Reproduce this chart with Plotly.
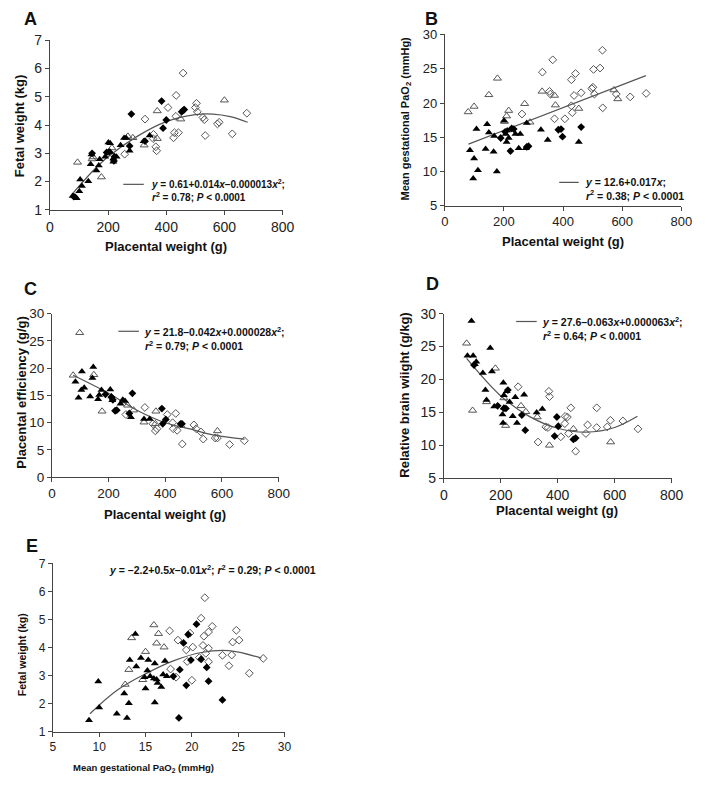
import plotly.graph_objects as go

W, H = 709, 787
FONT = "Liberation Sans, Arial, sans-serif"

# ---- Panel A: fetal weight (kg) vs placental weight (g)
a_ft_x = [78, 88, 92, 101, 110, 104, 132, 140, 143, 160, 168, 171, 190, 201, 207, 207, 218, 229, 218, 243, 255, 262, 274, 322, 343]
a_ft_y = [1.49, 1.45, 1.41, 1.66, 1.84, 2.07, 2.01, 2.61, 2.96, 2.39, 2.57, 2.79, 2.88, 3.38, 3.36, 3.05, 2.82, 2.88, 2.70, 3.29, 3.54, 3.54, 3.09, 3.43, 3.63]
a_fd_x = [82, 145, 195, 204, 220, 222, 274, 280, 327, 384, 389, 400, 453, 459, 462]
a_fd_y = [1.47, 3.00, 3.03, 3.05, 2.73, 2.88, 3.26, 4.39, 3.43, 4.85, 3.89, 4.18, 4.47, 4.53, 4.55]
a_ot_x = [95, 145, 148, 177, 213, 268, 285, 324, 369, 369, 450, 600]
a_ot_y = [2.68, 2.80, 2.87, 2.16, 3.19, 3.60, 3.55, 3.29, 4.50, 3.52, 4.21, 4.88]
a_od_x = [257, 327, 355, 356, 364, 367, 406, 434, 458, 425, 428, 442, 433, 504, 500, 507, 526, 531, 534, 576, 582, 627, 677]
a_od_y = [2.97, 4.21, 3.52, 3.67, 3.23, 3.09, 4.62, 5.05, 5.84, 3.55, 3.73, 3.73, 4.31, 4.77, 4.62, 4.47, 4.27, 4.19, 3.63, 4.04, 4.10, 3.69, 4.42]
a_fit_x = [80, 150, 200, 300, 400, 500, 560, 620, 680]
a_fit_y = [1.60, 2.40, 2.88, 3.60, 4.12, 4.37, 4.39, 4.30, 4.10]

# ---- Panel B: mean gestational PaO2 vs placental weight
b_ft_x = [85, 99, 96, 107, 112, 138, 143, 149, 165, 167, 176, 200, 206, 209, 211, 216, 239, 255, 250, 274, 277, 325, 348, 453]
b_ft_y = [13.1, 11.9, 9.0, 16.2, 10.2, 13.3, 16.9, 15.7, 12.9, 15.2, 10.0, 17.4, 15.5, 14.3, 16.0, 14.9, 15.5, 15.5, 13.4, 13.4, 17.1, 16.1, 14.6, 14.3]
b_fd_x = [189, 204, 222, 226, 233, 277, 283, 384, 393, 398, 461]
b_fd_y = [14.9, 15.8, 13.0, 16.3, 16.2, 13.6, 13.7, 16.1, 16.2, 15.1, 16.5]
b_ot_x = [79, 99, 149, 178, 202, 209, 216, 270, 288, 329, 371, 374, 453, 572, 585]
b_ot_y = [18.7, 19.5, 21.2, 23.6, 17.3, 18.1, 18.9, 19.9, 17.2, 21.7, 21.1, 19.7, 19.2, 21.9, 20.6]
b_od_x = [261, 330, 354, 357, 365, 371, 406, 428, 431, 428, 442, 437, 461, 497, 501, 503, 506, 525, 533, 534, 580, 627, 681]
b_od_y = [18.4, 24.5, 21.7, 21.3, 26.3, 17.7, 17.7, 19.6, 18.6, 23.4, 24.3, 21.1, 21.5, 22.1, 22.3, 24.9, 21.3, 25.1, 27.7, 19.3, 21.3, 20.9, 21.4]
b_fit_x = [80, 680]
b_fit_y = [14.0, 24.0]

# ---- Panel C: placental efficiency (g/g) vs placental weight
c_ft_x = [83, 94, 104, 106, 114, 135, 143, 146, 163, 167, 175, 206, 210, 213, 242, 250, 258, 279, 325, 345]
c_ft_y = [17.5, 14.6, 16.0, 19.4, 16.4, 14.8, 18.2, 20.2, 14.3, 15.1, 16.0, 16.1, 14.8, 14.1, 13.5, 14.2, 14.0, 11.0, 10.7, 10.7]
c_fd_x = [189, 210, 215, 223, 229, 273, 284, 388, 391, 402, 454, 459]
c_fd_y = [15.2, 14.7, 14.2, 12.2, 12.3, 11.7, 15.4, 12.6, 9.8, 10.6, 9.8, 9.8]
c_ot_x = [75, 98, 148, 177, 267, 288, 325, 367, 365, 455, 584]
c_ot_y = [18.7, 26.5, 18.8, 12.1, 13.2, 12.3, 10.1, 12.1, 9.8, 9.5, 8.5]
c_od_x = [261, 328, 356, 365, 371, 407, 426, 428, 437, 442, 460, 501, 509, 526, 534, 576, 584, 627, 679]
c_od_y = [11.5, 12.8, 9.8, 8.5, 8.9, 11.5, 10.0, 8.9, 11.7, 8.6, 6.1, 9.6, 8.9, 8.3, 7.0, 7.2, 7.2, 6.0, 6.7]
c_fit_x = [75, 200, 300, 400, 500, 540, 600, 680]
c_fit_y = [18.7, 15.4, 12.3, 10.0, 8.7, 8.1, 7.5, 7.0]

# ---- Panel D: relative brain weight (g/kg) vs placental weight
d_ft_x = [83, 97, 103, 109, 114, 137, 146, 163, 169, 150, 177, 209, 211, 206, 208, 211, 221, 231, 242, 251, 257, 282, 326, 346]
d_ft_y = [23.6, 28.9, 23.6, 22.3, 22.7, 21.0, 18.4, 24.8, 21.2, 16.9, 15.9, 19.5, 17.6, 14.7, 13.4, 15.7, 18.2, 16.6, 14.4, 17.3, 13.4, 17.7, 15.0, 15.5]
d_fd_x = [106, 189, 211, 218, 225, 274, 286, 389, 397, 402, 455, 463]
d_fd_y = [22.2, 16.0, 15.6, 15.6, 18.4, 14.6, 12.3, 11.4, 14.3, 12.9, 10.9, 11.1]
d_ot_x = [80, 101, 150, 181, 211, 217, 271, 288, 328, 371, 455, 586]
d_ot_y = [25.5, 15.3, 16.6, 21.7, 17.2, 13.0, 16.0, 15.1, 14.3, 10.0, 12.5, 10.5]
d_od_x = [261, 331, 358, 366, 369, 371, 411, 425, 426, 434, 438, 446, 463, 499, 505, 537, 537, 574, 585, 629, 682]
d_od_y = [18.9, 10.5, 12.8, 12.7, 18.2, 17.4, 11.3, 13.3, 14.4, 14.3, 11.8, 15.7, 9.1, 11.8, 13.1, 15.7, 12.7, 12.8, 13.8, 13.7, 12.5]
d_fit_x = [80, 200, 300, 400, 500, 600, 680]
d_fit_y = [23.2, 17.5, 14.4, 12.6, 12.0, 12.7, 14.4]

# ---- Panel E: fetal weight (kg) vs mean gestational PaO2
e_ft_x = [8.9, 9.9, 10.0, 11.9, 12.7, 13.0, 13.2, 13.3, 13.9, 14.0, 14.5, 14.9, 15.0, 15.3, 15.5, 15.2, 15.9, 16.0, 16.0, 16.3, 16.9, 17.3, 17.1, 16.7, 16.2]
e_ft_y = [1.42, 2.80, 1.87, 1.65, 2.37, 1.50, 2.02, 3.56, 4.49, 3.33, 3.63, 2.95, 2.55, 3.56, 2.98, 3.19, 2.90, 2.05, 3.44, 2.74, 3.05, 2.98, 3.53, 2.60, 2.87]
e_fd_x = [18.6, 18.7, 18.0, 19.1, 19.4, 19.6, 19.9, 20.5, 21.0, 21.6, 21.8, 23.3]
e_fd_y = [1.50, 3.22, 2.98, 4.17, 2.66, 4.47, 3.56, 4.84, 3.59, 3.30, 2.81, 2.14]
e_ot_x = [12.8, 13.2, 13.5, 14.7, 15.0, 15.9, 16.2, 16.4, 17.0]
e_ot_y = [2.69, 3.22, 4.35, 2.86, 3.86, 4.81, 4.16, 4.50, 4.02]
e_od_x = [17.6, 17.7, 18.3, 18.5, 19.4, 19.5, 19.8, 20.0, 20.1, 20.8, 21.0, 21.2, 21.3, 21.4, 21.5, 21.8, 21.8, 21.8, 22.2, 23.3, 24.0, 24.3, 24.4, 24.8, 25.1, 26.2, 27.7]
e_od_y = [4.60, 3.24, 2.95, 4.27, 3.92, 3.51, 4.52, 2.84, 4.02, 3.65, 5.05, 4.08, 4.41, 5.78, 3.80, 4.56, 3.98, 3.50, 4.76, 3.73, 3.36, 3.74, 4.20, 4.62, 4.27, 3.09, 3.62]
e_fit_x = [9, 12, 15, 18, 21, 24, 27.5]
e_fit_y = [1.65, 2.50, 3.07, 3.53, 3.83, 3.90, 3.63]


def px(x):
    return x / W


def py(y):
    return 1 - y / H


fig = go.Figure()

panels = [
    # axis suffix, data, x-domain px, y-domain px, x range, x dtick, y range, y dtick
    ("", (a_ft_x, a_ft_y, a_fd_x, a_fd_y, a_ot_x, a_ot_y, a_od_x, a_od_y, a_fit_x, a_fit_y),
     (47, 285), (33, 206), [0, 800], 200, [1, 7], 1),
    ("2", (b_ft_x, b_ft_y, b_fd_x, b_fd_y, b_ot_x, b_ot_y, b_od_x, b_od_y, b_fit_x, b_fit_y),
     (451, 693), (27, 202), [0, 800], 200, [5, 30], 5),
    ("3", (c_ft_x, c_ft_y, c_fd_x, c_fd_y, c_ot_x, c_ot_y, c_od_x, c_od_y, c_fit_x, c_fit_y),
     (49, 281), (312, 479), [0, 800], 200, [0, 30], 5),
    ("4", (d_ft_x, d_ft_y, d_fd_x, d_fd_y, d_ot_x, d_ot_y, d_od_x, d_od_y, d_fit_x, d_fit_y),
     (450, 683), (312, 480), [0, 800], 200, [5, 30], 5),
    ("5", (e_ft_x, e_ft_y, e_fd_x, e_fd_y, e_ot_x, e_ot_y, e_od_x, e_od_y, e_fit_x, e_fit_y),
     (50, 287), (567, 739), [5, 30], 5, [1, 7], 1),
]

tick_sizes = [14, 13, 13.5, 14, 12]

for i, (n, d, xd, yd, xr, xdt, yr, ydt) in enumerate(panels):
    xa, ya = "x" + n, "y" + n
    ftx, fty, fdx, fdy, otx, oty, odx, ody, fx, fy = d
    fig.add_trace(go.Scatter(x=fx, y=fy, mode="lines", line=dict(color="#555", width=1.2, shape="spline"),
                             xaxis=xa, yaxis=ya, showlegend=False))
    fig.add_trace(go.Scatter(x=odx, y=ody, mode="markers", xaxis=xa, yaxis=ya, showlegend=False,
                             marker=dict(symbol="diamond-open", size=6, color="#555", line=dict(width=1))))
    fig.add_trace(go.Scatter(x=otx, y=oty, mode="markers", xaxis=xa, yaxis=ya, showlegend=False,
                             marker=dict(symbol="triangle-up-open", size=7, color="#555", line=dict(width=1))))
    fig.add_trace(go.Scatter(x=fdx, y=fdy, mode="markers", xaxis=xa, yaxis=ya, showlegend=False,
                             marker=dict(symbol="diamond", size=6, color="black")))
    fig.add_trace(go.Scatter(x=ftx, y=fty, mode="markers", xaxis=xa, yaxis=ya, showlegend=False,
                             marker=dict(symbol="triangle-up", size=7, color="black")))
    ax = dict(showline=True, linecolor="#444", linewidth=1, ticks="outside", ticklen=4, tickcolor="#444",
              showgrid=False, zeroline=False, tickfont=dict(size=tick_sizes[i], color="#222"))
    fig.update_layout({
        "xaxis" + n: dict(ax, domain=[px(xd[0]), px(xd[1])], range=xr, dtick=xdt, anchor=ya),
        "yaxis" + n: dict(ax, domain=[py(yd[1]), py(yd[0])], range=yr, dtick=ydt, anchor=xa),
    })

annos = []


def txt(x, y, s, size, angle=0, anchor="center"):
    annos.append(dict(x=px(x), y=py(y), xref="paper", yref="paper", text=s, showarrow=False,
                      textangle=angle, xanchor=anchor, yanchor="middle", align=anchor,
                      font=dict(family=FONT, size=size, color="#111")))


# panel letters
for lab, x, y in [("A", 27, 11), ("B", 437, 11), ("C", 27, 287), ("D", 438, 282), ("E", 29, 549)]:
    txt(x, y, "<b>" + lab + "</b>", 18)

# axis titles
pw = "<b>Placental weight (g)</b>"
txt(16, 120, "<b>Fetal weight (kg)</b>", 13, -90)
txt(166, 243, pw, 13)
txt(411, 113, "<b>Mean gestational PaO<sub>2</sub> (mmHg)</b>", 11, -90)
txt(572, 238, pw, 13)
txt(17, 393, "<b>Placental efficiency (g/g)</b>", 13, -90)
txt(165, 517, pw, 13)
txt(410, 395, "<b>Relative brain wiight (g/kg)</b>", 13, -90)
txt(566, 513, pw, 13)
txt(18, 660, "<b>Fetal weight (kg)</b>", 10.5, -90)
txt(143, 776, "<b>Mean gestational PaO<sub>2</sub> (mmHg)</b>", 9.5)

# fit equations
txt(148, 186, "<b><i>y</i> = 0.61+0.014<i>x</i>–0.000013<i>x</i><sup>2</sup>;<br>"
              "<i>r</i><sup>2</sup> = 0.78; <i>P</i> < 0.0001</b>", 10, anchor="left")
txt(592, 185, "<b><i>y</i> = 12.6+0.017<i>x</i>;<br>"
              "<i>r</i><sup>2</sup> = 0.38; <i>P</i> < 0.0001</b>", 10.5, anchor="left")
txt(141, 337, "<b><i>y</i> = 21.8–0.042<i>x</i>+0.000028<i>x</i><sup>2</sup>;<br>"
              "<i>r</i><sup>2</sup> = 0.79; <i>P</i> < 0.0001</b>", 10.5, anchor="left")
txt(548, 327, "<b><i>y</i> = 27.6–0.063<i>x</i>+0.000063<i>x</i><sup>2</sup>;<br>"
              "<i>r</i><sup>2</sup> = 0.64; <i>P</i> < 0.0001</b>", 10.5, anchor="left")
txt(105, 573, "<b><i>y</i> = –2.2+0.5<i>x</i>–0.01<i>x</i><sup>2</sup>; <i>r</i><sup>2</sup> = 0.29; "
              "<i>P</i> < 0.0001</b>", 10.5, anchor="left")

# short legend strokes next to equations
shapes = []
for x0, x1, y in [(122, 143, 180), (568, 588, 178), (117, 138, 330), (524, 545, 320)]:
    shapes.append(dict(type="line", xref="paper", yref="paper", x0=px(x0), x1=px(x1), y0=py(y), y1=py(y),
                       line=dict(color="#555", width=1.2)))

fig.update_layout(
    width=W, height=H, margin=dict(l=0, r=0, t=0, b=0),
    paper_bgcolor="white", plot_bgcolor="white",
    font=dict(family=FONT, color="#111"),
    annotations=annos, shapes=shapes,
)

# drop the browser's default 8px body margin so the figure sits at the page origin
fig.write_html("out.html", config={"displayModeBar": False},
               post_script="document.body.style.margin='0px';")
